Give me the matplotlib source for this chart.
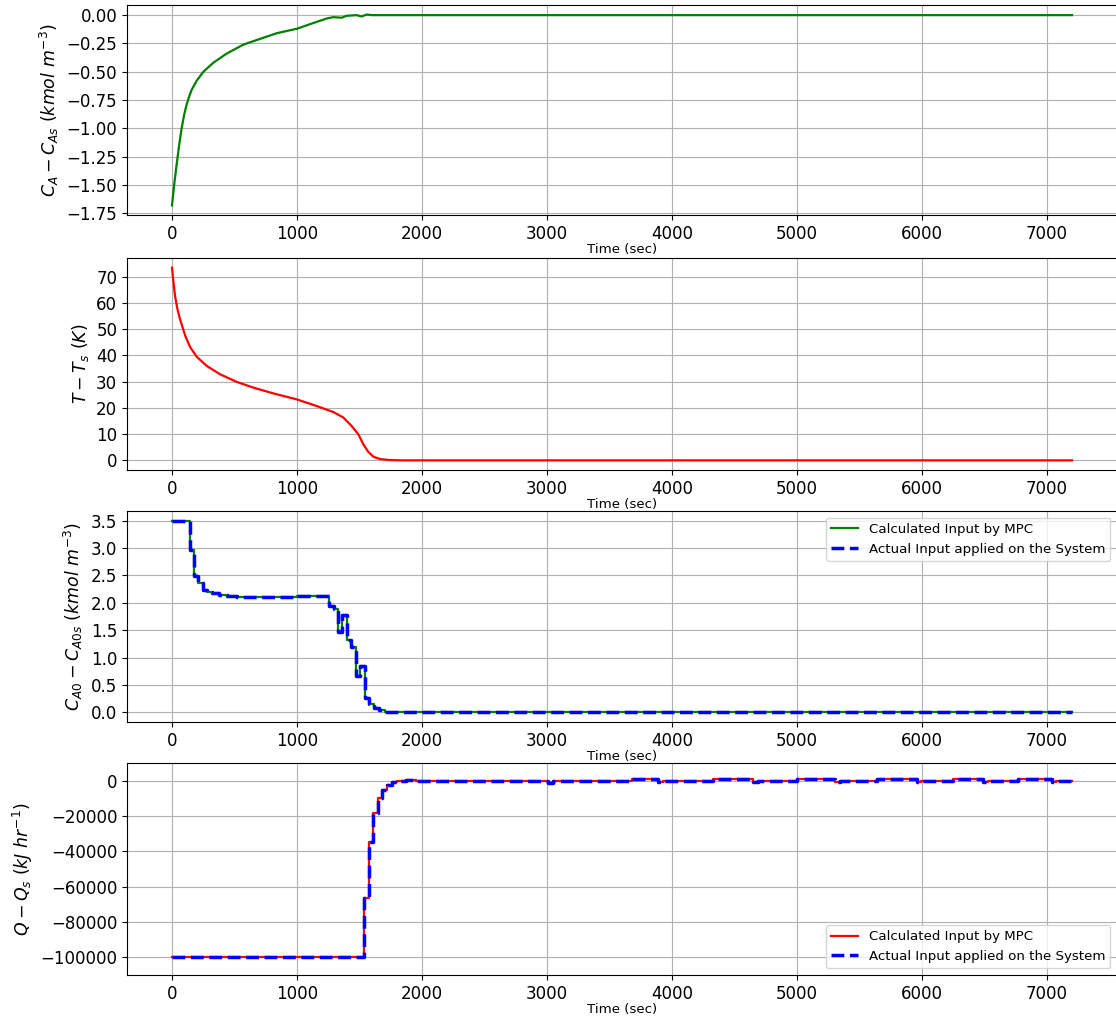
import numpy as np
import matplotlib
matplotlib.use("Agg")
import matplotlib.pyplot as plt
from matplotlib.ticker import MultipleLocator

# ---- datos ----
# C_A - C_As (curva suave)
t_ca = [0, 17, 37, 57, 77, 97, 117, 137, 157, 197, 251, 331, 437, 571, 704, 837,
        1000, 1104, 1237, 1291, 1357, 1397, 1477, 1517, 1557, 1600, 7200]
ca = [-1.68, -1.50, -1.32, -1.15, -1.00, -0.88, -0.79, -0.72, -0.66, -0.58, -0.50,
      -0.42, -0.34, -0.26, -0.21, -0.16, -0.12, -0.08, -0.03, -0.018, -0.023, -0.006,
      0.0, -0.012, 0.005, 0.0, 0.0]

# T - Ts (curva suave)
t_T = [0, 8, 24, 44, 64, 104, 144, 197, 277, 384, 517, 651, 811, 1000, 1157, 1291,
       1371, 1437, 1491, 1531, 1571, 1611, 1664, 1744, 1850, 7200]
T = [73.4, 69.5, 62.7, 57.5, 53.8, 47.7, 43.2, 39.5, 36.0, 32.8, 29.9, 27.7, 25.5,
     23.2, 20.7, 18.4, 16.3, 13.1, 9.9, 6.1, 3.2, 1.4, 0.5, 0.1, 0.0, 0.0]

# C_A0 - C_A0s (entrada por escalones)
t_ca0 = [0, 142, 177, 208, 245, 282, 322, 377, 440, 520, 1000, 1080, 1253, 1298,
         1327, 1359, 1398, 1435, 1470, 1501, 1543, 1575, 1612, 1654, 1707, 1786, 7200]
ca0 = [3.5, 2.97, 2.48, 2.36, 2.24, 2.20, 2.17, 2.14, 2.12, 2.11, 2.12, 2.13, 1.95,
       1.89, 1.46, 1.78, 1.32, 1.20, 0.66, 0.85, 0.27, 0.15, 0.08, 0.04, 0.01, 0.0, 0.0]

# Q - Qs (entrada por escalones)
t_q = [0, 1533, 1573, 1608, 1645, 1680, 1720, 1760, 1800, 1870, 1950, 3010, 3050,
       3677, 3888, 3930, 4331, 4651, 4690, 4997, 5307, 5345, 5637, 5957, 5995,
       6251, 6491, 6530, 6771, 7037, 7075, 7200]
q = [-100000, -66200, -34900, -18400, -9900, -5100, -2300, -950, -300, 500, 0, -1500, 0,
     1000, -700, 0, 1000, -700, 0, 1000, -700, 0, 1000, -700, 0,
     1000, -700, 0, 1000, -700, 0, 0]

lbl_calc = 'Calculated Input by MPC'
lbl_act = 'Actual Input applied on the System'

W, H = 1116, 1019
fig = plt.figure(figsize=(W/100, H/100), dpi=100)

# (top, bottom) en pixeles de cada panel
cajas = [(5, 215), (258, 470), (511, 722), (763, 975)]
axs = []
for top, bot in cajas:
    ax = fig.add_axes([127/W, (H-bot)/H, 990/W, (bot-top)/H])
    axs.append(ax)

ax = axs[0]
ax.plot(t_ca, ca, color='g', lw=1.6)
ax.set_ylabel(r'$C_A - C_{As}\ (kmol\ m^{-3})$', fontsize=12.5)
ax.yaxis.set_major_locator(MultipleLocator(0.25))

ax = axs[1]
ax.plot(t_T, T, color='r', lw=1.6)
ax.set_ylabel(r'$T - T_s\ (K)$', fontsize=12.5)
ax.yaxis.set_major_locator(MultipleLocator(10))

ax = axs[2]
ax.step(t_ca0, ca0, where='post', color='g', lw=1.6, label=lbl_calc)
ax.step(t_ca0, ca0, where='post', color='b', lw=2.5, ls='--', label=lbl_act)
ax.set_ylabel(r'$C_{A0} - C_{A0s}\ (kmol\ m^{-3})$', fontsize=12.5)
ax.yaxis.set_major_locator(MultipleLocator(0.5))
ax.legend(loc='upper right', fontsize=9.6)

ax = axs[3]
ax.step(t_q, q, where='post', color='r', lw=1.6, label=lbl_calc)
ax.step(t_q, q, where='post', color='b', lw=2.5, ls='--', label=lbl_act)
ax.set_ylabel(r'$Q - Q_s\ (kJ\ hr^{-1})$', fontsize=12.5)
ax.set_ylim(-110000, 10000)
ax.yaxis.set_major_locator(MultipleLocator(20000))
ax.legend(loc='lower right', fontsize=9.6)

for ax in axs:
    ax.grid()
    ax.set_xlabel('Time (sec)', fontsize=9.6, labelpad=0.5)
    ax.tick_params(labelsize=12)

fig.savefig('out.png', dpi=100)
